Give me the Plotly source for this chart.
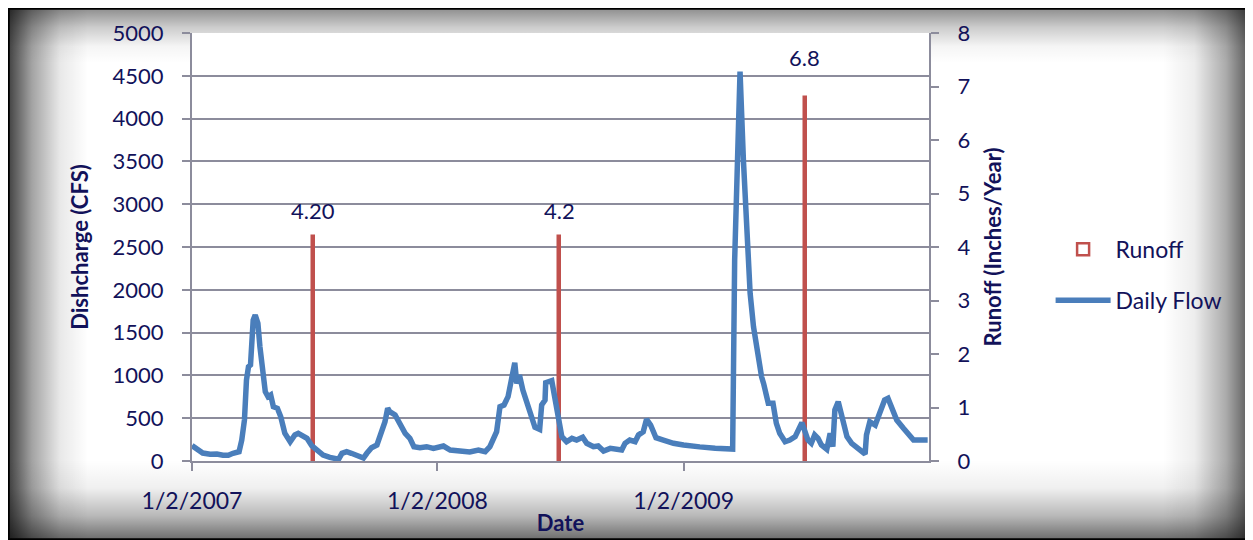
import base64
import plotly.graph_objects as go

# ---------------- data ----------------
flow_dates = [
    "2007-01-02", "2007-01-09", "2007-01-18", "2007-01-29", "2007-02-08", "2007-02-17", "2007-02-25",
    "2007-03-04", "2007-03-13", "2007-03-17", "2007-03-21", "2007-03-24", "2007-03-27", "2007-03-30",
    "2007-04-03", "2007-04-06", "2007-04-10", "2007-04-13", "2007-04-17", "2007-04-21", "2007-04-25",
    "2007-04-29", "2007-05-03", "2007-05-09", "2007-05-14", "2007-05-20", "2007-05-28", "2007-06-04",
    "2007-06-09", "2007-06-17", "2007-06-22", "2007-06-29", "2007-07-06", "2007-07-16", "2007-07-26",
    "2007-08-08", "2007-08-13", "2007-08-20", "2007-08-27", "2007-09-04", "2007-09-14", "2007-09-19",
    "2007-09-26", "2007-10-04", "2007-10-09", "2007-10-13", "2007-10-16", "2007-10-20", "2007-10-23",
    "2007-10-31", "2007-11-07", "2007-11-15", "2007-11-22", "2007-11-28", "2007-12-07", "2007-12-17",
    "2007-12-27", "2008-01-05", "2008-01-11", "2008-01-21", "2008-01-31", "2008-02-09", "2008-02-19",
    "2008-03-03", "2008-03-13", "2008-03-20", "2008-03-30", "2008-04-04", "2008-04-10", "2008-04-16",
    "2008-04-21", "2008-04-26", "2008-04-29", "2008-05-03", "2008-05-08", "2008-05-14", "2008-05-21",
    "2008-05-26", "2008-06-02", "2008-06-05", "2008-06-10", "2008-06-11", "2008-06-20", "2008-06-25",
    "2008-06-30", "2008-07-05", "2008-07-12", "2008-07-20", "2008-07-27", "2008-08-05", "2008-08-11",
    "2008-08-21", "2008-08-28", "2008-09-05", "2008-09-15", "2008-09-25", "2008-10-02", "2008-10-07",
    "2008-10-14", "2008-10-22", "2008-10-27", "2008-11-03", "2008-11-08", "2008-11-14", "2008-11-22",
    "2008-12-03", "2008-12-18", "2009-01-02", "2009-01-10", "2009-01-26", "2009-02-18", "2009-03-12",
    "2009-03-16", "2009-03-19", "2009-03-27", "2009-04-01", "2009-04-06", "2009-04-11", "2009-04-16",
    "2009-04-23", "2009-04-28", "2009-05-01", "2009-05-08", "2009-05-15", "2009-05-20", "2009-05-25",
    "2009-06-02", "2009-06-09", "2009-06-17", "2009-06-27", "2009-07-02", "2009-07-06", "2009-07-11",
    "2009-07-16", "2009-07-21", "2009-07-26", "2009-08-03", "2009-08-08", "2009-08-12", "2009-08-15",
    "2009-08-20", "2009-08-25", "2009-09-02", "2009-09-09", "2009-09-19", "2009-09-29", "2009-10-01",
    "2009-10-06", "2009-10-14", "2009-10-21", "2009-10-28", "2009-11-02", "2009-11-07", "2009-11-15",
    "2009-11-25", "2009-12-02", "2009-12-10", "2009-12-20", "2009-12-31",
]
flow_cfs = [
    180, 148, 93, 78, 82, 67, 67,
    90, 109, 245, 479, 946, 1101, 1121,
    1647, 1705, 1608, 1335, 1024, 809, 751,
    771, 634, 616, 517, 324, 225, 304,
    324, 292, 265, 179, 128, 70, 43,
    20, 90, 109, 90, 70, 35, 90,
    155, 187, 304, 382, 459, 616, 576,
    537, 420, 324, 265, 167, 155, 167,
    148, 160, 175, 128, 117, 117, 105,
    128, 109, 167, 342, 634, 654, 751,
    926, 1148, 907, 1004, 829, 674, 479,
    394, 370, 654, 712, 915, 938, 712,
    440, 284, 225, 265, 245, 277, 207,
    167, 175, 117, 148, 137, 128, 207,
    245, 225, 304, 342, 487, 420, 272,
    245, 207, 187, 175, 165, 150, 130,
    140, 2348, 4550, 3516, 2546, 1959, 1569,
    1180, 985, 907, 674, 674, 440, 324,
    225, 245, 284, 448, 324, 245, 207,
    304, 265, 187, 137, 324, 167, 596,
    693, 517, 284, 207, 148, 82, 304,
    459, 420, 557, 712, 732, 616, 479,
    382, 324, 245, 245, 245,
]

runoff_dates = ["2007-07-01", "2008-07-01", "2009-07-01"]
runoff_values = [4.2, 4.2, 6.8]
runoff_labels = ["4.20", "4.2", "6.8"]
label_shift = [26, 26, 40]

x_tick_vals = ["2007-01-02", "2008-01-02", "2009-01-02"]
x_tick_text = ["1/2/2007", "1/2/2008", "1/2/2009"]

# ---------------- style ----------------
NAVY = "#12125A"
GRID = "#8C8C9C"
BLUE = "#4A7EBB"
RED = "#C0504D"
FONT = "Lato, 'Open Sans', sans-serif"

# the page places the figure 8px from the top-left corner
W, H = 1245, 532
L, T = 184, 25
PW, PH = 737, 428
R, B = W - L - PW, H - T - PH

# vignette background as an svg image
svg = f'''<svg xmlns="http://www.w3.org/2000/svg" width="{W}" height="{H}" viewBox="0 0 {W} {H}" preserveAspectRatio="none">
<defs>
<linearGradient id="gl" x1="0" x2="1" y1="0" y2="0">
<stop offset="0" stop-color="#000" stop-opacity="0.75"/><stop offset="0.3" stop-color="#000" stop-opacity="0.36"/>
<stop offset="0.65" stop-color="#000" stop-opacity="0.09"/><stop offset="1" stop-color="#000" stop-opacity="0"/></linearGradient>
<linearGradient id="gr" x1="1" x2="0" y1="0" y2="0">
<stop offset="0" stop-color="#000" stop-opacity="0.7"/><stop offset="0.3" stop-color="#000" stop-opacity="0.33"/>
<stop offset="0.65" stop-color="#000" stop-opacity="0.07"/><stop offset="1" stop-color="#000" stop-opacity="0"/></linearGradient>
<linearGradient id="gt" x1="0" x2="0" y1="0" y2="1">
<stop offset="0" stop-color="#000" stop-opacity="0.45"/><stop offset="0.35" stop-color="#000" stop-opacity="0.2"/>
<stop offset="0.7" stop-color="#000" stop-opacity="0.04"/><stop offset="1" stop-color="#000" stop-opacity="0"/></linearGradient>
<linearGradient id="gb" x1="0" x2="0" y1="1" y2="0">
<stop offset="0" stop-color="#000" stop-opacity="0.58"/><stop offset="0.3" stop-color="#000" stop-opacity="0.28"/>
<stop offset="0.65" stop-color="#000" stop-opacity="0.06"/><stop offset="1" stop-color="#000" stop-opacity="0"/></linearGradient>
</defs>
<rect x="0" y="0" width="{W}" height="{H}" fill="#ffffff"/>
<rect x="0" y="0" width="80" height="{H}" fill="url(#gl)"/>
<rect x="{W-90}" y="0" width="90" height="{H}" fill="url(#gr)"/>
<rect x="0" y="0" width="{W}" height="55" fill="url(#gt)"/>
<rect x="0" y="{H-80}" width="{W}" height="80" fill="url(#gb)"/>
<rect x="0.5" y="0.5" width="{W-1}" height="{H-1}" fill="none" stroke="#000" stroke-width="2.5"/>
</svg>'''
svg_uri = "data:image/svg+xml;base64," + base64.b64encode(svg.encode()).decode()

fig = go.Figure()

fig.add_trace(go.Bar(
    x=runoff_dates, y=runoff_values, name="Runoff", yaxis="y",
    width=3 * 86400000,
    marker=dict(color="white", line=dict(color=RED, width=2.5)),
    legendgroup="a",
    textposition="none", hoverinfo="x+y",
))

fig.add_trace(go.Scatter(
    x=flow_dates, y=flow_cfs, name="Daily Flow", yaxis="y2",
    mode="lines", line=dict(color=BLUE, width=5.5),
    legendgroup="b",
))

for d, v, t, s in zip(runoff_dates, runoff_values, runoff_labels, label_shift):
    fig.add_annotation(x=d, y=v, xref="x", yref="y", text=t, showarrow=False,
                       yshift=s, font=dict(family=FONT, size=22, color=NAVY))

fig.add_layout_image(dict(
    source=svg_uri, xref="paper", yref="paper",
    x=-L / PW, y=1 + T / PH, sizex=W / PW, sizey=H / PH,
    xanchor="left", yanchor="top", sizing="stretch", layer="below",
))
fig.add_shape(type="rect", xref="paper", yref="paper", x0=0, x1=1, y0=0, y1=1,
              fillcolor="white", line=dict(width=0), layer="below")

fig.update_layout(
    width=W, height=H,
    margin=dict(l=L, r=R, t=T, b=B, autoexpand=False),
    paper_bgcolor="white", plot_bgcolor="white",
    font=dict(family=FONT, size=22, color=NAVY),
    showlegend=True,
    bargap=0,
    legend=dict(x=1.165, y=0.435, xanchor="left", yanchor="middle",
                bgcolor="rgba(0,0,0,0)", font=dict(family=FONT, size=23, color=NAVY),
                traceorder="grouped", tracegroupgap=18, itemwidth=55),
    xaxis=dict(
        type="date", range=["2007-01-02", "2010-01-02"], automargin=False,
        tickmode="array", tickvals=x_tick_vals, ticktext=x_tick_text,
        ticks="outside", ticklen=8, tickwidth=2, tickcolor=GRID,
        showline=True, linecolor=GRID, linewidth=2, showgrid=False, zeroline=False,
        ticklabelstandoff=10,
        tickfont=dict(family=FONT, size=23, color=NAVY),
        title=dict(text="<b>Date</b>", standoff=3, font=dict(family=FONT, size=22, color=NAVY)),
    ),
    yaxis=dict(
        side="right", range=[0, 8], dtick=1, tick0=0, automargin=False,
        ticks="outside", ticklen=8, tickwidth=2, tickcolor=GRID,
        showline=True, linecolor=GRID, linewidth=2, showgrid=False, zeroline=False,
        ticklabelstandoff=14,
        tickfont=dict(family=FONT, size=22, color=NAVY),
        title=dict(text="<b>Runoff (Inches/Year)</b>", standoff=16,
                   font=dict(family=FONT, size=22, color=NAVY)),
    ),
    yaxis2=dict(
        side="left", overlaying="y", range=[0, 5000], dtick=500, tick0=0, automargin=False,
        ticks="outside", ticklen=8, tickwidth=2, tickcolor=GRID,
        showline=True, linecolor=GRID, linewidth=2,
        showgrid=True, gridcolor=GRID, gridwidth=2, zeroline=False,
        ticklabelstandoff=14,
        tickfont=dict(family=FONT, size=22, color=NAVY),
        title=dict(text="<b>Dishcharge (CFS)</b>", standoff=18,
                   font=dict(family=FONT, size=22, color=NAVY)),
    ),
)

fig.write_html("out.html")
